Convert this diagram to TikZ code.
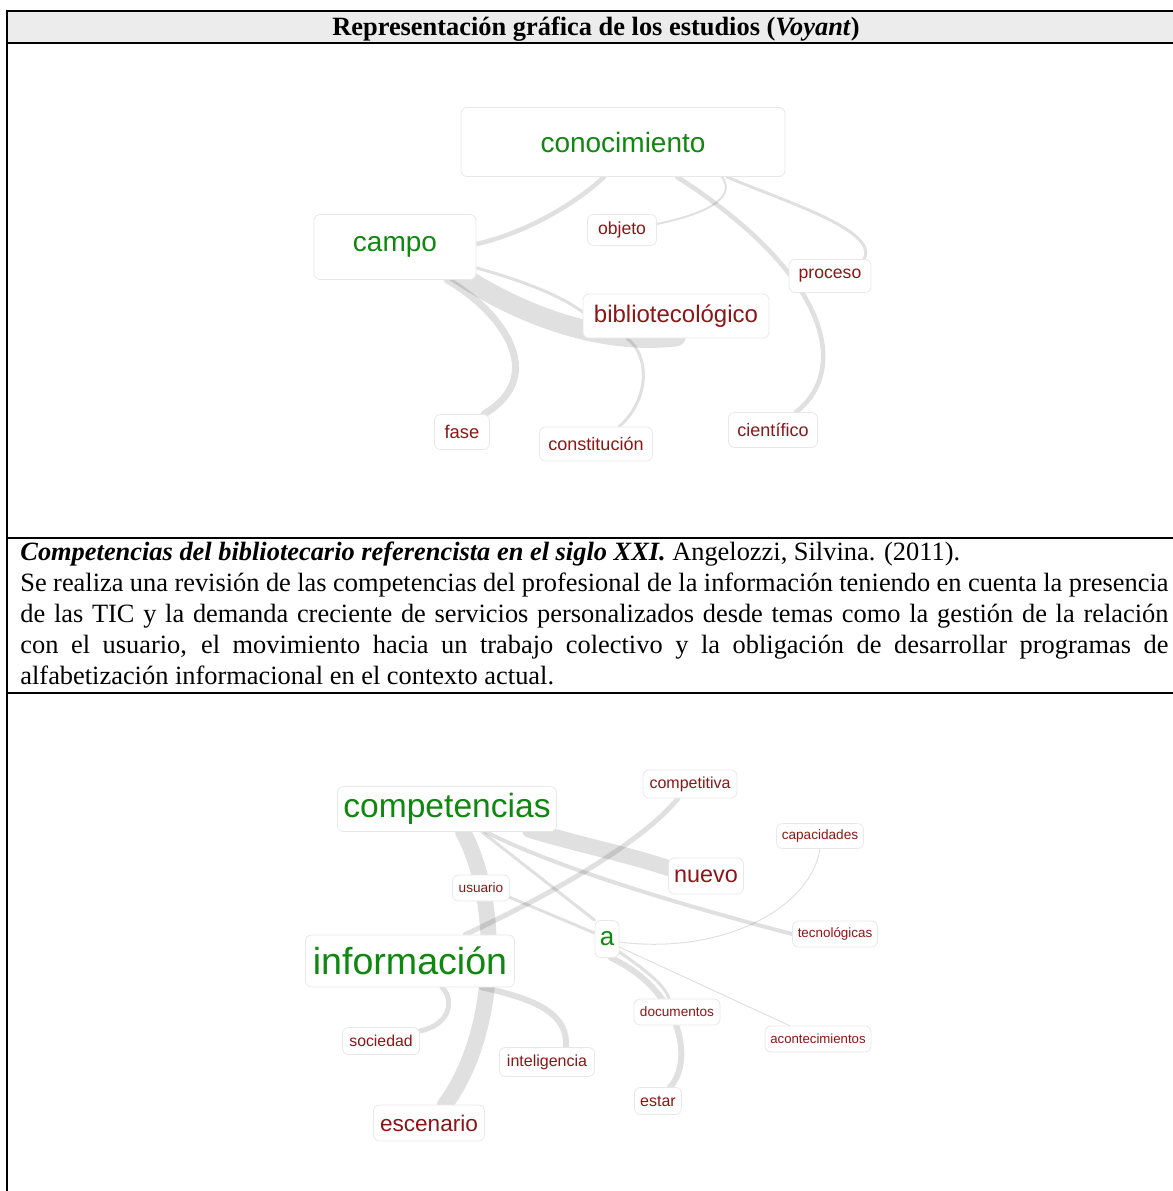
\documentclass[tikz,border=0pt]{standalone}
\usepackage{fontspec}
\setmainfont{Liberation Serif}
\setsansfont{Liberation Sans}
\usetikzlibrary{backgrounds}
\definecolor{keygreen}{RGB}{16,136,16}
\definecolor{ctxred}{RGB}{140,22,22}
\definecolor{headgray}{RGB}{236,236,236}
\newcommand{\wsz}[1]{\fontsize{#1}{#1}\selectfont}

\begin{document}
\begin{tikzpicture}[
    x=0.5pt, y=-0.5pt,
    word/.style={draw=black!9, fill=white, rounded corners=3pt, inner sep=0pt},
    key/.style={word, text=keygreen},
    ctx/.style={word, text=ctxred},
    wbox/.style n args={3}{minimum width=#1pt, minimum height=#2pt, font=\sffamily\wsz{#3}},
    link/.style={draw=black, draw opacity=0.12, line cap=round},
    rule/.style={line width=1pt}
]
\useasboundingbox (0,0) rectangle (1173,1191);

% Table frame
\fill[headgray] (7,11) rectangle (1173,43);
\draw[rule] (6,11) -- (1173,11);
\draw[rule] (7,43) -- (1173,43);
\draw[rule] (7,537.5) -- (1173,537.5);
\draw[rule] (7,693) -- (1173,693);
\draw[rule] (7,10.5) -- (7,1191);
\node[anchor=base, font=\bfseries\wsz{13.2}] (title) at (596,35) {Representación gráfica de los estudios (\textit{Voyant})};

% Abstract
\node[anchor=base west, text width=574pt, align=justify, inner sep=0pt, font=\fontsize{13.2}{15.5}\selectfont] (abstract) at (20,560) {\textbf{\textit{Competencias del bibliotecario referencista en el siglo XXI.}} Angelozzi, Silvina. (2011).\par
Se realiza una revisión de las competencias del profesional de la información teniendo en cuenta la presencia\linebreak
de las TIC y la demanda creciente de servicios personalizados desde temas como la gestión de la relación\linebreak
con el usuario, el movimiento hacia un trabajo colectivo y la obligación de desarrollar programas de\linebreak
alfabetización informacional en el contexto actual.};

% First graph
\node[key, wbox={162}{34.5}{14}] (cono) at (623,142) {conocimiento};
\node[key, wbox={81}{32.5}{14}] (campo) at (395,247) {campo};
\node[ctx, wbox={34.5}{15.5}{8.8}] (objeto) at (622,230) {objeto};
\node[ctx, wbox={41}{16.5}{8.8}] (proceso) at (830,276) {proceso};
\node[ctx, wbox={93}{22}{12}] (biblio) at (676,316) {bibliotecológico};
\node[ctx, wbox={27.5}{17.5}{9.2}] (fase) at (462,432) {fase};
\node[ctx, wbox={56.5}{17}{9}] (constit) at (596,444) {constitución};
\node[ctx, wbox={44.5}{17.5}{9}] (cientif) at (773,430) {científico};

% Second graph
\node[key, wbox={109.5}{22.5}{16.8}] (compet) at (447,809) {competencias};
\node[ctx, wbox={47}{14}{8}] (competit) at (690,784) {competitiva};
\node[ctx, wbox={43.5}{12.5}{6.8}] (capac) at (820,836) {capacidades};
\node[ctx, wbox={37.5}{18}{11.7}] (nuevo) at (706,876) {nuevo};
\node[ctx, wbox={28.5}{13}{6.8}] (usuario) at (481,888) {usuario};
\node[key, wbox={12}{18.5}{13}] (a) at (607,939) {a};
\node[ctx, wbox={42.5}{13}{6.7}] (tecno) at (835,934) {tecnológicas};
\node[key, wbox={104.5}{26}{18.8}] (info) at (410,961) {información};
\node[ctx, wbox={43}{13}{6.8}] (docum) at (677,1012) {documentos};
\node[ctx, wbox={53}{13}{6.6}] (aconte) at (818,1039) {acontecimientos};
\node[ctx, wbox={38.5}{13.5}{7.9}] (socied) at (381,1041) {sociedad};
\node[ctx, wbox={47.5}{14.5}{8}] (intelig) at (547,1062) {inteligencia};
\node[ctx, wbox={23.5}{13.5}{8}] (estar) at (658,1101) {estar};
\node[ctx, wbox={55.5}{18}{11.3}] (escen) at (429,1123) {escenario};

% Links
\begin{scope}[on background layer]
\draw[link, line width=2.3pt] ([xshift=-9.5pt]cono.south) .. controls (580,200) and (530,232) .. ([yshift=1.5pt]campo.east);
\draw[link, line width=1pt] ([xshift=49.5pt]cono.south) .. controls (735,195) and (715,212) .. ([yshift=3pt]objeto.east);
\draw[link, line width=2.3pt] ([xshift=27pt]cono.south) .. controls (830,275) and (850,370) .. ([xshift=11.5pt]cientif.north);
\draw[link, line width=1.5pt] ([xshift=52pt]cono.south) .. controls (780,200) and (880,230) .. ([xshift=17pt]proceso.north);
\draw[link, line width=10pt] ([xshift=30pt,yshift=4pt]campo.south) .. controls (520,315) and (600,345) .. ([yshift=1pt]biblio.south);
\draw[link, line width=1.5pt] ([yshift=6pt]campo.south east) .. controls (520,280) and (560,295) .. ([yshift=2pt]biblio.west);
\draw[link, line width=3.5pt] ([xshift=26pt]campo.south) .. controls (500,310) and (550,375) .. ([xshift=11pt]fase.north);
\draw[link, line width=1.5pt] ([xshift=-24.5pt]biblio.south) .. controls (650,355) and (650,400) .. ([xshift=11.5pt]constit.north);

\draw[link, line width=8pt] ([xshift=8pt]compet.south) .. controls (500,900) and (500,1030) .. ([xshift=8pt]escen.north);
\draw[link, line width=8pt] ([xshift=41.5pt,yshift=1pt]compet.south) .. controls (580,845) and (630,855) .. ([yshift=4pt]nuevo.west);
\draw[link, line width=2pt] ([xshift=19.5pt]compet.south) .. controls (560,870) and (700,910) .. (tecno.west);
\draw[link, line width=1.5pt] ([xshift=17.5pt]compet.south) -- (a.north west);
\draw[link, line width=2.5pt] ([xshift=-6pt]competit.south) .. controls (640,845) and (540,900) .. ([xshift=27.5pt]info.north);
\draw[link, line width=1.5pt] ([yshift=2pt]usuario.south east) -- ([yshift=3pt]a.west);
\draw[link, line width=0.5pt] ([yshift=-1.5pt]a.east) .. controls (720,955) and (810,910) .. (capac.south);
\draw[link, line width=0.5pt] ([yshift=-4pt]a.east) -- ([xshift=12.5pt]aconte.north west);
\draw[link, line width=1.5pt] ([yshift=3pt]a.south east) .. controls (645,970) and (665,985) .. ([xshift=-4pt]docum.north);
\draw[link, line width=3pt] ([xshift=2pt]a.south) .. controls (680,990) and (695,1060) .. ([xshift=6pt]estar.north);
\draw[link, line width=2.5pt] ([xshift=16pt]info.south) .. controls (455,1000) and (450,1025) .. ([yshift=5pt]socied.east);
\draw[link, line width=3pt] ([xshift=36pt]info.south) .. controls (540,1000) and (568,1015) .. ([xshift=9.5pt]intelig.north);
\end{scope}

\end{tikzpicture}
\end{document}
